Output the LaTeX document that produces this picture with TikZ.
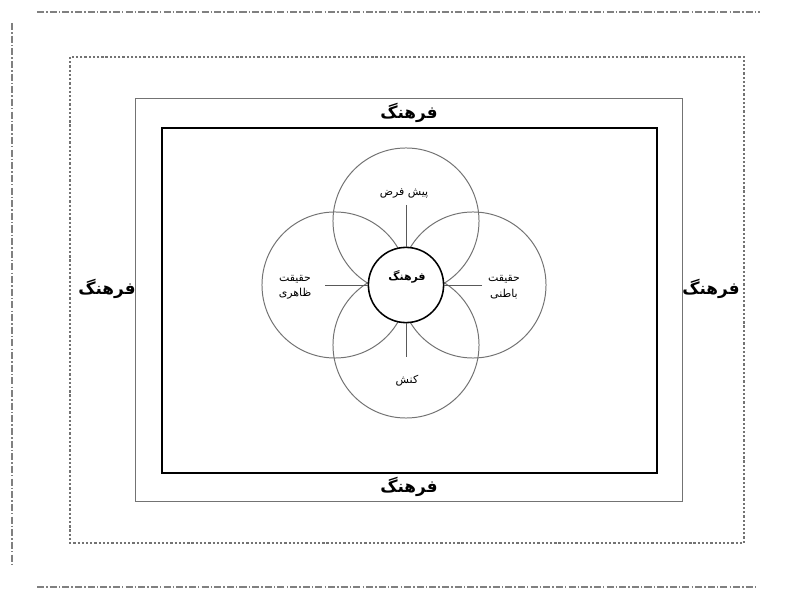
\documentclass[tikz,border=0pt]{standalone}
\usepackage{fontspec}
\usepackage{tikz}
\usetikzlibrary{shadows}
\TeXXeTstate=1
\newfontfamily\arabicfont[Script=Arabic]{DejaVu Sans}
\newcommand{\rtl}[1]{\beginR #1\endR}

\begin{document}
\begin{tikzpicture}[x=0.025cm, y=-0.025cm,
        ring/.style={circle, draw=black!55, line width=0.7pt, minimum size=3.65cm},
        core/.style={circle, draw=black, line width=1.1pt, minimum size=1.88cm},
        big/.style={font=\arabicfont\bfseries\fontsize{12}{14}\selectfont},
        small/.style={font=\arabicfont\fontsize{7.8}{11}\selectfont, align=center},
        spoke/.style={draw=black!65, line width=0.7pt},
        edge/.style={black!50, line width=0.9pt, dash pattern=on 5pt off 1.5pt on 1pt off 1.5pt}]
        \useasboundingbox (0,0) rectangle (798,590);
        \draw[edge] (37,12) -- (760,12);
        \draw[edge] (12,23) -- (12,567);
        \draw[edge] (37,587) -- (757,587);
        \draw[black!55, line width=0.9pt, dash pattern=on 1.6pt off 1.4pt] (70,57) rectangle (744,543);
        \draw[black!55, line width=0.7pt, fill=white, drop shadow={shadow xshift=1pt, shadow yshift=-1pt, fill=black!45}] (135,98) rectangle (682,501);
        \draw[black, line width=1.3pt] (162,128) rectangle (657,473);
        \node[big] (ttop) at (409,113) {\rtl{فرهنگ}};
        \node[big] (tbot) at (409,487) {\rtl{فرهنگ}};
        \node[big] (tleft) at (107,289) {\rtl{فرهنگ}};
        \node[big] (tright) at (711,289) {\rtl{فرهنگ}};
        \node[ring] (up) at (406,221) {};
        \node[ring] (left) at (335,285) {};
        \node[ring] (right) at (473,285) {};
        \node[ring] (down) at (406,345) {};
        \node[core, fill=white] (mid) at (406,285) {};
        \node[small, font=\arabicfont\bfseries\fontsize{7.8}{11}\selectfont] (lmid) at (407,277) {\rtl{فرهنگ}};
        \node[small] (lup) at (404,193) {\rtl{پیش فرض}};
        \node[small] (lleft) at (295,287) {\rtl{حقیقت}\\\rtl{ظاهری}};
        \node[small] (lright) at (504,287) {\rtl{حقیقت}\\\rtl{باطنی}};
        \node[small] (ldown) at (407,381) {\rtl{کنش}};
        \coordinate (sup) at (406,205);
        \coordinate (sleft) at (325,285);
        \coordinate (sright) at (482,285);
        \coordinate (sdown) at (406,357);
        \draw[spoke] (sup) -- (mid);
        \draw[spoke] (sleft) -- (mid);
        \draw[spoke] (sright) -- (mid);
        \draw[spoke] (sdown) -- (mid);
    \end{tikzpicture}
\end{document}
